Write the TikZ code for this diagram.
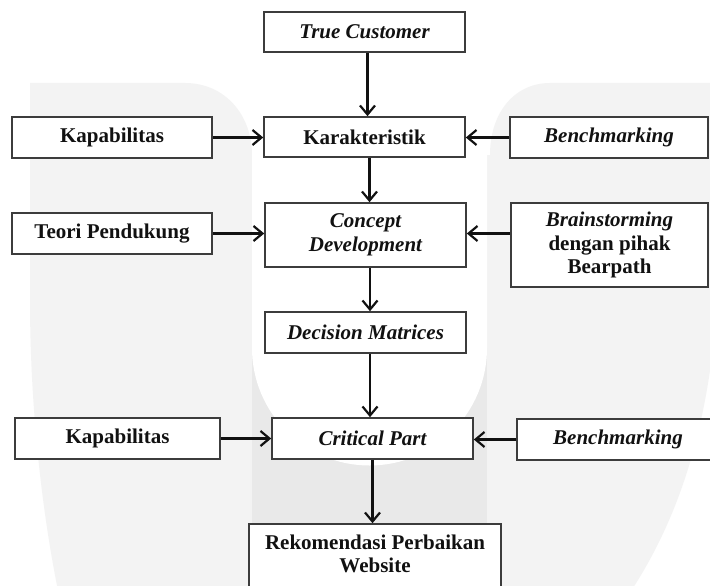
\documentclass[tikz,border=0pt]{standalone}
\usepackage{fontspec}
\setmainfont{Liberation Serif}
\usetikzlibrary{arrows.meta}
\definecolor{wmlight}{HTML}{F3F3F3}
\definecolor{wmband}{HTML}{E9E9E9}
\definecolor{boxline}{HTML}{3C3C3C}
\definecolor{ink}{HTML}{111111}
\tikzset{
  box/.style={draw=boxline, line width=1.6pt, fill=white, inner sep=2pt,
    align=center, text=ink, font=\fontsize{21}{23.5}\selectfont\bfseries},
  arr/.style={draw=ink, line width=2.2pt,
    -{Straight Barb[length=9pt,width=15pt,line width=2.2pt]}},
}
\begin{document}
\begin{tikzpicture}[x=1pt,y=-1pt]
\clip (0,0) rectangle (710,586);
\fill[white] (0,0) rectangle (710,586);
% watermark
\fill[wmlight] (30,83) -- (185,83) .. controls (225,83) and (252,115) .. (252,155)
  -- (490,155) .. controls (490,112) and (515,83) .. (550,83) -- (715,83)
  -- (715,330) .. controls (705,430) and (680,520) .. (625,600)
  -- (60,600) .. controls (45,530) and (30,420) .. (30,300) -- cycle;
\fill[wmband] (252,150) rectangle (487,600);
\fill[white] (252,0) -- (252,348) arc[start angle=180, end angle=360, radius=117.5pt] -- (487,0) -- cycle;
% boxes
\node[box, minimum width=201pt, minimum height=40pt] (tc) at (364.5,32) {\itshape True Customer};
\node[box, minimum width=201pt, minimum height=40pt] (kar) at (364.5,137) {Karakteristik};
\node[box, minimum width=200pt, minimum height=41pt] (kap1) at (112,137.5) {Kapabilitas};
\node[box, minimum width=198pt, minimum height=41pt] (bm1) at (609,137.5) {\itshape Benchmarking};
\node[box, minimum width=200pt, minimum height=41pt] (teori) at (112,233.5) {Teori Pendukung};
\node[box, minimum width=201pt, minimum height=64pt] (cd) at (365.5,235) {\itshape Concept\\\itshape Development};
\node[box, minimum width=197pt, minimum height=84pt] (brain) at (609.5,245) {\itshape Brainstorming\\dengan pihak\\Bearpath};
\node[box, minimum width=201pt, minimum height=41pt] (dm) at (365.5,332.5) {\itshape Decision Matrices};
\node[box, minimum width=201pt, minimum height=41pt] (cp) at (372.5,438.5) {\itshape Critical Part};
\node[box, minimum width=205pt, minimum height=41pt] (kap2) at (117.5,438.5) {Kapabilitas};
\node[box, minimum width=202pt, minimum height=41pt] (bm2) at (618,439.5) {\itshape Benchmarking};
\node[box, minimum width=252pt, minimum height=89.5pt] (rek) at (375,568.75) {Rekomendasi Perbaikan\\Website\\\strut};
% vertical connectors
\draw[arr] ([xshift=3pt]tc.south) -- ([xshift=3pt]tc.south |- kar.north);
\draw[arr] ([xshift=5pt]kar.south) -- ([xshift=5pt]kar.south |- cd.north);
\draw[arr] ([xshift=4.5pt]cd.south) -- ([xshift=4.5pt]cd.south |- dm.north);
\draw[arr] ([xshift=4.5pt]dm.south) -- ([xshift=4.5pt]dm.south |- cp.north);
\draw[arr] (cp.south) -- (cp.south |- rek.north);
% horizontal connectors
\draw[arr] (kap1.east) -- (kap1.east -| kar.west);
\draw[arr] (bm1.west) -- (bm1.west -| kar.east);
\draw[arr] (teori.east) -- (teori.east -| cd.west);
\draw[arr] (brain.west |- teori.east) -- (teori.east -| cd.east);
\draw[arr] (kap2.east) -- (kap2.east -| cp.west);
\draw[arr] (bm2.west) -- (bm2.west -| cp.east);
\end{tikzpicture}
\end{document}
